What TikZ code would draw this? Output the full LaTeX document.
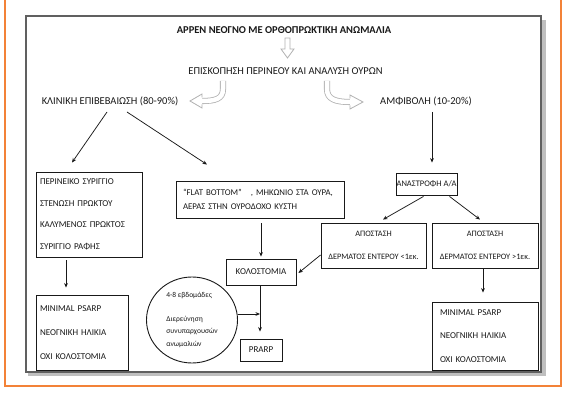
\documentclass[tikz,border=0pt]{standalone}
\usepackage{fontspec}
\setmainfont{Carlito}
\usetikzlibrary{shapes.geometric,arrows.meta,calc}
\definecolor{frameorange}{RGB}{243,130,56}
\definecolor{ink}{RGB}{25,25,25}
\begin{document}
\begin{tikzpicture}[x=1pt,y=-1pt,
  lbl/.style={inner sep=1pt, text=ink, font=\fontsize{10.5}{12}\selectfont},
  boxl/.style={draw=ink, line width=0.9pt, text=ink, inner xsep=4pt, inner ysep=0pt, align=left},
  boxc/.style={draw=ink, line width=0.9pt, text=ink, inner sep=0pt, align=center},
  arr/.style={-{Stealth[length=4.5pt,width=3.8pt]}, line width=0.75pt, draw=ink},
  hollow/.style={draw=gray!60, line width=0.8pt, fill=white},
  hshaft/.style={draw=gray!60, line width=0.8pt, double=white, double distance=4.5pt}
]
\useasboundingbox (0,0) rectangle (563,395);
% outer orange frame (open at the top)
\draw[frameorange, line width=1.3pt] (5,0) -- (5,386) -- (561,386) -- (561,0);
% grey frame with shadow
\fill[gray!50] (28,20) rectangle (546,376);
\draw[gray!75!black, line width=1.3pt, fill=white] (26,16) rectangle (541,372);

% title and first hollow arrow
\node[font=\bfseries\fontsize{10.5}{12}\selectfont, text=ink, inner sep=1pt] (title) at (284,30) {ΑΡΡΕΝ ΝΕΟΓΝΟ ΜΕ ΟΡΘΟΠΡΩΚΤΙΚΗ ΑΝΩΜΑΛΙΑ};
\draw[hollow] (285,38) -- (285,49) -- (281,49) -- (287.5,58) -- (294,49) -- (290,49) -- (290,38) -- cycle;

\node[lbl] (epis) at (285.5,71) {ΕΠΙΣΚΟΠΗΣΗ ΠΕΡΙΝΕΟΥ ΚΑΙ ΑΝΑΛΥΣΗ ΟΥΡΩΝ};
\node[lbl] (klin) at (110,101) {ΚΛΙΝΙΚΗ ΕΠΙΒΕΒΑΙΩΣΗ (80-90\%)};
\node[lbl] (amf) at (426,101) {ΑΜΦΙΒΟΛΗ (10-20\%)};

% curved hollow arrows
\draw[hshaft] (223,81) -- (223,89) .. controls (223,99) and (215,101) .. (202,101);
\draw[hollow] (202,97.5) -- (202,94) -- (190,101) -- (202,108) -- (202,104.5);
\draw[hshaft] (327,81) -- (327,89) .. controls (327,99) and (335,102) .. (350,102);
\draw[hollow] (350,98.5) -- (350,95) -- (363,102) -- (350,109) -- (350,105.5);

% left column
\node[boxl, text width=98pt, minimum height=85pt, font=\fontsize{9}{21.5}\selectfont] (box1) at (89,214.5)
  {ΠΕΡΙΝΕΙΚΟ ΣΥΡΙΓΓΙΟ\\ΣΤΕΝΩΣΗ ΠΡΩΚΤΟΥ\\ΚΑΛΥΜΕΝΟΣ ΠΡΩΚΤΟΣ\\ΣΥΡΙΓΓΙΟ ΡΑΦΗΣ};
\node[boxl, text width=84pt, minimum height=75pt, font=\fontsize{9}{24}\selectfont] (box2) at (82,332.5)
  {MINIMAL PSARP\\ΝΕΟΓΝΙΚΗ ΗΛΙΚΙΑ\\ΟΧΙ ΚΟΛΟΣΤΟΜΙΑ};

% middle column
\node[boxl, inner xsep=7pt, text width=154pt, minimum height=37pt, font=\fontsize{8.8}{14}\selectfont] (flat) at (260,199.5)
  {“FLAT BOTTOM”\hspace{9pt}, ΜΗΚΩΝΙΟ ΣΤΑ ΟΥΡΑ,\\ΑΕΡΑΣ ΣΤΗΝ ΟΥΡΟΔΟΧΟ ΚΥΣΤΗ};
\node[boxc, minimum width=70pt, minimum height=26pt, font=\fontsize{9}{11}\selectfont] (kol) at (261,272) {ΚΟΛΟΣΤΟΜΙΑ};
\node[boxc, minimum width=42pt, minimum height=22pt, font=\fontsize{9}{11}\selectfont] (prarp) at (261,350) {PRARP};
\node[ellipse, draw=ink, line width=0.9pt, text=ink, minimum width=91pt, minimum height=86pt, inner sep=0pt,
  align=left, font=\fontsize{7.5}{12.5}\selectfont] (circ) at (192,320)
  {4-8 εβδομάδες\\[11pt]Διερεύνηση\\συνυπαρχουσών\\ανωμαλιών};

% right column
\node[boxc, minimum width=61pt, minimum height=22pt, font=\fontsize{8.5}{11}\selectfont] (anas) at (426.5,184) {ΑΝΑΣΤΡΟΦΗ Α/Α};
\node[boxc, minimum width=105pt, minimum height=45pt, font=\fontsize{8.3}{23}\selectfont] (ap1) at (373.5,245.5)
  {ΑΠΟΣΤΑΣΗ\\ΔΕΡΜΑΤΟΣ ΕΝΤΕΡΟΥ <1εκ.};
\node[boxc, minimum width=106pt, minimum height=45pt, font=\fontsize{8.3}{23}\selectfont] (ap2) at (485,245.5)
  {ΑΠΟΣΤΑΣΗ\\ΔΕΡΜΑΤΟΣ ΕΝΤΕΡΟΥ >1εκ.};
\node[boxl, inner xsep=8pt, text width=90pt, minimum height=68pt, font=\fontsize{9}{23.5}\selectfont] (box3) at (485,336)
  {MINIMAL PSARP\\ΝΕΟΓΝΙΚΗ ΗΛΙΚΙΑ\\ΟΧΙ ΚΟΛΟΣΤΟΜΙΑ};

% connectors
\draw[arr] ($(klin.center)+(-3,11)$) -- ($(box1.north)+(-17,-9)$);
\draw[arr] ($(klin.center)+(17,11)$) -- ($(flat.north)+(-53,-16)$);
\draw[arr] ($(amf.center)+(6,11)$) -- ($(anas.north)+(5.5,-10)$);
\draw[arr] ($(box1.south)+(-23,3)$) -- ($(box2.north)+(-16,-7)$);
\draw[arr] ($(flat.south)+(1,5)$) -- ($(kol.north)+(0,-2)$);
\draw[arr] ($(anas.south)+(-3,1)$) -- ($(ap1.north)+(9.5,-3)$);
\draw[arr] ($(anas.south)+(23,1)$) -- ($(ap2.north)+(-5,-3)$);
\draw[arr] ($(ap1.west)+(0,9.5)$) -- ($(kol.east)+(2,1)$);
\draw[arr] ($(ap2.south)+(-2,0)$) -- ($(box3.north)+(-2,-9)$);
\draw[arr] ($(kol.south)+(-1,0)$) -- ($(prarp.north)+(-1,-7)$);
\draw[arr] ($(circ.east)+(0,-6)$) -- ($(circ.east -| kol.south)+(-1,-6)$);
\end{tikzpicture}
\end{document}
